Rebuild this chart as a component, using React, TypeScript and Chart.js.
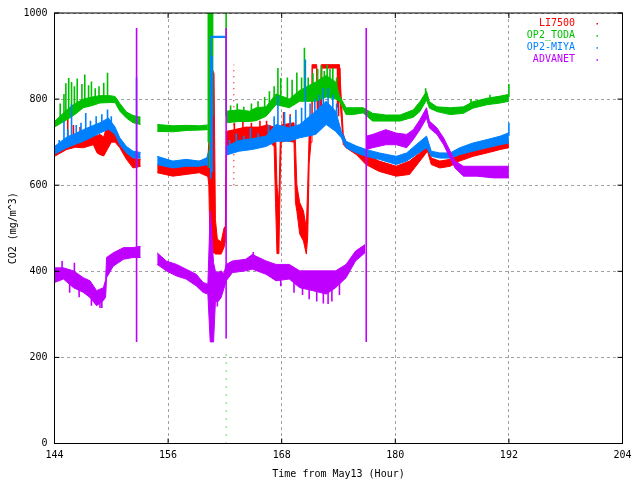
import React, { useEffect, useRef } from "react";
import { Chart, registerables } from "chart.js";

Chart.register(...registerables);

type Row = [number, number | null, number | null];

const FONT_FAMILY = "'DejaVu Sans Mono', monospace";
const FONT_SIZE = 10;

const seriesNames = ["LI7500", "OP2_TODA", "OP2-MIYA", "ADVANET"];
const seriesColors = ["#ff0000", "#00c000", "#0080ff", "#c000ff"];
const xTickValues = [144, 156, 168, 180, 192, 204];
const yTickValues = [0, 200, 400, 600, 800, 1000];
const xTitle = "Time from May13 (Hour)";
const yTitle = "CO2 (mg/m^3)";

// [time (hour), lower edge of noise band, upper edge of noise band]
const li7500Band: Row[] = [
  [144, 667, 690], [145.3, 683, 702], [146.2, 688, 712], [147.05, 687, 718],
  [148.1, 694, 721], [148.5, 675, 715], [148.8, 671, 718], [149.2, 668, 712],
  [149.5, 680, 735], [150.0, 700, 735], [150.4, 700, 728], [150.9, 687, 706],
  [151.6, 660, 675], [152.3, 640, 663], [153.1, 644, 660], [153.5, null, null],
  [154.85, 629, 648], [156.5, 621, 640], [157.9, 625, 644], [159.3, 629, 656],
  [160.2, 620, 660], [160.3, 600, 700], [160.45, 443, 881], [160.85, 443, 860],
  [161.0, 440, 520], [161.2, 440, 475], [161.6, 440, 468], [161.9, 455, 500],
  [162.05, 470, 505], [162.15, 668, 725], [162.8, 690, 728], [164.2, 695, 735],
  [165.6, 700, 735], [166.5, 705, 740], [167.2, 690, 735], [167.35, 560, 730],
  [167.5, 441, 600], [167.7, 441, 560], [167.85, 620, 705], [167.95, 700, 740],
  [168.5, 703, 742], [169.3, 700, 745], [169.45, 560, 700], [169.6, 540, 600],
  [169.9, 487, 560], [170.3, 470, 540], [170.6, 440, 500], [170.75, 480, 600],
  [170.9, 650, 720], [171.1, 700, 760], [171.2, 740, 880], [171.24, 872, 880],
  [171.7, 872, 880], [171.75, 770, 825], [172.15, 770, 825], [172.2, 872, 880],
  [174.1, 872, 880], [174.15, 800, 880], [174.5, 695, 720], [174.8, 687, 698],
  [175.9, 671, 687], [176.9, 648, 671], [178.3, 632, 656], [180.1, 621, 644],
  [181.5, 625, 656], [182.6, 656, 675], [183.4, 679, 698], [183.8, 648, 663],
  [184.7, 640, 656], [185.8, 644, 660], [186.8, 656, 671], [188.2, 667, 683],
  [189.7, 675, 691], [191.1, 683, 698], [192, 687, 702],
];

const op2TodaBand: Row[] = [
  [144, 735, 748], [145.3, 752, 775], [146.2, 765, 790], [147.05, 780, 800],
  [148.0, 785, 805], [148.8, 791, 808], [149.9, 792, 808], [150.4, 792, 806],
  [150.9, 772, 790], [151.6, 756, 770], [152.3, 745, 762], [153.1, 741, 758],
  [153.5, null, null], [154.85, 725, 741], [156.5, 724, 738], [157.9, 727, 739],
  [159.3, 728, 738], [160.2, 729, 740], [160.22, null, null], [162.15, 745, 772],
  [163.5, 748, 775], [164.6, 748, 772], [165.3, 750, 780], [166.35, 760, 782],
  [167.4, 787, 812], [168.8, 780, 800], [169.9, 795, 820], [171.6, 795, 840],
  [172.7, 805, 855], [173.7, 800, 840], [174.1, 795, 808], [174.8, 764, 780],
  [175.5, 764, 780], [176.6, 768, 780], [177.6, 749, 767], [179, 749, 763],
  [180.5, 749, 763], [181.9, 758, 775], [182.6, 771, 794], [183.3, 798, 818],
  [183.6, 779, 794], [184.4, 771, 782], [185.8, 764, 780], [187.2, 767, 782],
  [188.2, 779, 794], [189.7, 787, 802], [191.1, 791, 807], [192, 795, 811],
];

const op2MiyaBand: Row[] = [
  [144, 672, 690], [145.3, 687, 712], [146.2, 695, 720], [147.05, 702, 729],
  [148.0, 712, 738], [148.8, 721, 745], [149.7, 730, 756], [150.4, 718, 735],
  [150.9, 694, 710], [151.6, 675, 690], [152.3, 663, 679], [153.1, 663, 676],
  [153.5, null, null], [154.85, 648, 667], [156.5, 640, 656], [157.9, 644, 660],
  [159.3, 644, 656], [160.1, 648, 664], [160.3, 640, 680], [160.35, null, null],
  [160.5, 943, 946], [162.1, 943, 946], [162.12, null, null], [162.15, 670, 690],
  [163.5, 679, 704], [164.9, 683, 708], [166.35, 690, 714], [167.4, 702, 741],
  [168.8, 702, 733], [169.9, 710, 741], [171.6, 718, 772], [172.7, 741, 795],
  [173.7, 725, 772], [174.3, 710, 725], [174.8, 687, 702], [175.9, 675, 691],
  [176.9, 667, 683], [178.3, 660, 675], [180.1, 648, 667], [181.2, 656, 675],
  [182.2, 671, 694], [183.3, 687, 714], [183.8, 667, 679], [184.7, 663, 675],
  [185.8, 663, 675], [186.8, 671, 687], [188.2, 679, 698], [189.7, 687, 706],
  [191.1, 694, 714], [192, 698, 722],
];

const advanetBand: Row[] = [
  [144, 374, 408], [144.95, 382, 408], [146, 362, 401], [147.05, 351, 385],
  [147.75, 339, 378], [148.45, 320, 355], [149.16, 332, 362], [149.4, 340, 380],
  [149.5, 385, 432], [150.2, 412, 443], [151.3, 428, 455], [152.3, 432, 455],
  [153.1, 432, 458], [153.5, null, null], [154.85, 416, 443], [155.8, 401, 424],
  [156.9, 389, 416], [157.9, 382, 405], [158.98, 366, 393], [159.7, 351, 374],
  [160.2, 347, 370], [160.45, 236, 540], [160.8, 236, 420], [161.0, 330, 400],
  [161.3, 330, 397], [161.6, 339, 401], [161.9, 360, 395], [162.14, 378, 416],
  [162.8, 397, 424], [164.2, 401, 428], [164.9, 405, 439], [166.35, 393, 424],
  [167.4, 378, 416], [168.8, 382, 416], [169.9, 362, 401], [171.3, 355, 401],
  [172.7, 347, 401], [173.7, 362, 401], [174.8, 385, 416], [175.8, 424, 447],
  [176.8, 443, 462], [176.85, null, null], [176.95, 683, 714], [177.6, 687, 718],
  [179, 694, 729], [180.1, 694, 721], [181.2, 687, 718], [181.9, 706, 729],
  [182.6, 729, 752], [183.3, 756, 780], [183.6, 733, 749], [184.4, 718, 733],
  [185.1, 694, 710], [185.8, 663, 679], [186.3, 640, 656], [187.2, 621, 644],
  [188.6, 621, 644], [190.4, 617, 644], [192, 617, 644],
];

// isolated excursions: [time, from, to]
const li7500Spikes: Row[] = [
  [145.4, 705, 757], [146.0, 700, 740], [146.7, 700, 735], [149.9, 700, 740],
  [163.0, 700, 745], [163.9, 705, 756], [164.8, 705, 745], [165.7, 710, 750],
  [166.4, 710, 750], [168.2, 720, 770], [168.9, 720, 765], [172.2, 770, 880],
  [173.9, 780, 880], [174.0, 760, 880],
];
const li7500Dots: Row[] = [[162.94, 600, 880]];
const op2TodaSpikes: Row[] = [
  [144.6, 750, 790], [145.0, 760, 812], [145.2, 765, 837], [145.5, 775, 849],
  [145.8, 775, 840], [146.1, 780, 830], [146.4, 785, 848], [146.9, 790, 835],
  [147.2, 790, 857], [147.6, 795, 832], [147.9, 795, 841], [148.3, 800, 825],
  [148.7, 800, 830], [149.2, 800, 838], [149.6, 805, 861],
  [160.25, 700, 1000], [160.4, 640, 1000], [160.55, 720, 1000], [160.7, 760, 1000],
  [162.13, 760, 1000], [162.6, 760, 785], [163.3, 765, 790], [164.0, 765, 782],
  [164.8, 765, 790], [165.5, 770, 795], [166.2, 775, 805], [166.7, 780, 818],
  [167.2, 790, 830], [167.6, 795, 872], [167.9, 790, 849], [168.6, 795, 850],
  [169.1, 800, 845], [169.6, 805, 862], [170.1, 810, 850], [170.4, 815, 919],
  [170.8, 815, 850], [171.3, 820, 860], [171.8, 825, 870], [172.2, 840, 878],
  [172.5, 840, 865], [172.8, 850, 880], [173.1, 830, 870], [173.4, 840, 872],
  [173.8, 820, 850], [183.2, 805, 825], [188.0, 785, 800], [190.0, 795, 810],
  [192, 805, 835],
];
const op2TodaDots: Row[] = [[162.13, 0, 210]];
const op2MiyaSpikes: Row[] = [
  [144.5, 680, 705], [145.0, 690, 750], [145.4, 700, 730], [145.8, 705, 788],
  [146.3, 705, 740], [146.8, 710, 745], [147.3, 715, 768], [147.8, 720, 750],
  [148.4, 725, 760], [149.0, 730, 765], [149.6, 745, 776], [150.0, 730, 760],
  [152.67, 640, 850], [160.5, 615, 946], [160.65, 630, 900],
  [162.5, 680, 705], [163.2, 690, 720], [164.0, 690, 715], [164.7, 695, 733],
  [165.5, 695, 720], [166.6, 705, 740], [167.2, 720, 760], [167.6, 725, 807],
  [168.3, 725, 770], [168.9, 720, 760], [169.5, 730, 775], [170.1, 735, 780],
  [170.5, 740, 892], [171.0, 745, 790], [171.5, 750, 800], [172.0, 760, 810],
  [172.4, 765, 826], [172.9, 770, 826], [173.4, 760, 810], [173.8, 740, 790],
  [192, 715, 745],
];
const advanetSpikes: Row[] = [
  [152.67, 236, 965], [162.13, 244, 965], [176.93, 236, 965],
  [144.8, 400, 424], [145.6, 350, 380], [146.1, 395, 420], [146.6, 340, 370],
  [147.9, 320, 345], [148.8, 315, 340], [149.0, 315, 345], [161.2, 318, 350],
  [165.0, 430, 445], [167.9, 365, 390], [169.3, 350, 380], [170.2, 345, 380],
  [170.9, 335, 360], [171.7, 330, 360], [172.4, 325, 355], [172.9, 324, 355],
  [173.3, 330, 360], [174.1, 345, 375],
];

function bandSets(rows: Row[], color: string, order: number) {
  const common = {
    type: "line" as const,
    borderColor: color,
    borderWidth: 1,
    pointRadius: 0,
    tension: 0,
    spanGaps: false,
    order,
  };
  return [
    { ...common, data: rows.map((r) => ({ x: r[0], y: r[1] })), fill: false },
    {
      ...common,
      data: rows.map((r) => ({ x: r[0], y: r[2] })),
      fill: "-1",
      backgroundColor: color,
    },
  ];
}

function spikeSet(rows: Row[], color: string, order: number, dash: number[] = [], width = 1.6) {
  return {
    type: "line" as const,
    data: rows.flatMap((r) => [
      { x: r[0], y: r[1] },
      { x: r[0], y: r[2] },
      { x: r[0], y: null },
    ]),
    borderColor: color,
    borderWidth: width,
    borderDash: dash,
    pointRadius: 0,
    fill: false,
    spanGaps: false,
    order,
  };
}

const frameAndLegend = {
  id: "frameAndLegend",
  afterDraw(chart: any) {
    const { ctx, chartArea: a, scales } = chart;
    ctx.save();
    ctx.strokeStyle = "#000";
    ctx.lineWidth = 1;
    ctx.setLineDash([]);
    ctx.strokeRect(a.left, a.top, a.right - a.left, a.bottom - a.top);
    ctx.beginPath();
    for (const v of xTickValues) {
      const x = scales.x.getPixelForValue(v);
      ctx.moveTo(x, a.bottom);
      ctx.lineTo(x, a.bottom - 5);
      ctx.moveTo(x, a.top);
      ctx.lineTo(x, a.top + 5);
    }
    for (const v of yTickValues) {
      const y = scales.y.getPixelForValue(v);
      ctx.moveTo(a.left, y);
      ctx.lineTo(a.left + 5, y);
      ctx.moveTo(a.right, y);
      ctx.lineTo(a.right - 5, y);
    }
    ctx.stroke();
    ctx.font = `${FONT_SIZE}px ${FONT_FAMILY}`;
    ctx.textAlign = "right";
    ctx.textBaseline = "middle";
    seriesNames.forEach((name, i) => {
      const y = a.top + 10.5 + 12.1 * i;
      ctx.fillStyle = seriesColors[i];
      ctx.fillText(name, a.right - 47.5, y);
      ctx.fillRect(a.right - 26, y - 0.5, 1.5, 1.5);
    });
    ctx.restore();
  },
};

export default function App() {
  const ref = useRef<HTMLCanvasElement>(null);
  useEffect(() => {
    const canvas = ref.current;
    if (!canvas) return;
    const [cRed, cGreen, cBlue, cPurple] = seriesColors;
    const datasets: any[] = [
      ...bandSets(li7500Band, cRed, 4),
      spikeSet(li7500Spikes, cRed, 4),
      spikeSet(li7500Dots, cRed, 4, [1, 5], 1.2),
      ...bandSets(op2TodaBand, cGreen, 3),
      spikeSet(op2TodaSpikes, cGreen, 3),
      spikeSet(op2TodaDots, cGreen, 3, [1, 7], 1.2),
      ...bandSets(op2MiyaBand, cBlue, 2),
      spikeSet(op2MiyaSpikes, cBlue, 2),
      ...bandSets(advanetBand, cPurple, 1),
      spikeSet(advanetSpikes, cPurple, 1),
    ];
    const tickFont = { family: FONT_FAMILY, size: FONT_SIZE };
    const chart = new Chart(canvas, {
      type: "line",
      data: { datasets },
      options: {
        responsive: false,
        animation: false,
        events: [],
        layout: { padding: { left: 0, right: 17.5, top: 11.5, bottom: 0 } },
        plugins: { legend: { display: false }, tooltip: { enabled: false } },
        scales: {
          x: {
            type: "linear",
            min: 144,
            max: 204,
            offset: false,
            afterBuildTicks: (s: any) => {
              s.ticks = xTickValues.map((v) => ({ value: v }));
            },
            afterFit: (s: any) => {
              s.height = 36.5;
            },
            ticks: {
              font: tickFont,
              color: "#000",
              padding: 6,
              maxRotation: 0,
              autoSkip: false,
              callback: (v: any) => String(v),
            },
            grid: { color: "#a0a0a0", drawTicks: false, lineWidth: 1 },
            border: { display: false, dash: [3, 3] },
            title: {
              display: true,
              text: xTitle,
              font: tickFont,
              color: "#000",
              padding: { top: 0, bottom: 0 },
            },
          },
          y: {
            type: "linear",
            min: 0,
            max: 1000,
            afterBuildTicks: (s: any) => {
              s.ticks = yTickValues.map((v) => ({ value: v }));
            },
            afterFit: (s: any) => {
              s.width = 54.5;
            },
            ticks: {
              font: tickFont,
              color: "#000",
              padding: 7,
              autoSkip: false,
              callback: (v: any) => String(v),
            },
            grid: { color: "#a0a0a0", drawTicks: false, lineWidth: 1 },
            border: { display: false, dash: [3, 3] },
            title: {
              display: true,
              text: yTitle,
              font: tickFont,
              color: "#000",
              padding: { top: 7, bottom: 0 },
            },
          },
        },
      },
      plugins: [frameAndLegend],
    } as any);
    return () => chart.destroy();
  }, []);
  return (
    <div style={{ position: "absolute", left: 0, top: 0, width: 640, height: 480, background: "#fff" }}>
      <canvas ref={ref} width={640} height={480} style={{ display: "block", width: 640, height: 480 }} />
    </div>
  );
}
